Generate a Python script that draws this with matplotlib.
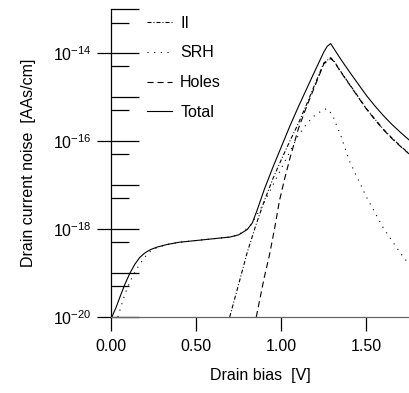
import numpy as np
import matplotlib
matplotlib.use('Agg')
import matplotlib.pyplot as plt
from matplotlib.ticker import FixedLocator, NullFormatter

plt.rcParams['font.family'] = ['Liberation Sans', 'DejaVu Sans']
plt.rcParams['mathtext.fontset'] = 'custom'
plt.rcParams['mathtext.rm'] = 'Liberation Sans'

# values, noise as log10 [AAs/cm]
v_total = [0.005, 0.03, 0.055, 0.08, 0.11, 0.14, 0.17, 0.2, 0.23, 0.27, 0.33, 0.4, 0.5, 0.6, 0.7,
           0.75, 0.8, 0.83, 0.86, 0.9, 0.95, 1.0, 1.05, 1.1, 1.15, 1.2, 1.25, 1.27, 1.29,
           1.31, 1.35, 1.4, 1.45, 1.5, 1.55, 1.6, 1.65, 1.7, 1.75]
log_total = [-20.0, -19.78, -19.52, -19.27, -19.01, -18.8, -18.64, -18.54, -18.47, -18.41, -18.35, -18.3, -18.26, -18.22, -18.18,
             -18.13, -18.01, -17.86, -17.55, -17.1, -16.6, -16.13, -15.66, -15.22, -14.8, -14.38, -13.97, -13.84, -13.78,
             -13.9, -14.14, -14.42, -14.69, -14.96, -15.2, -15.42, -15.62, -15.8, -15.97]

v_srh = [0.04, 0.06, 0.08, 0.1, 0.13, 0.16, 0.2, 0.23, 0.27, 0.33, 0.4, 0.5, 0.6, 0.7, 0.75, 0.785, 0.81,
         0.85, 0.9, 0.95, 1.0, 1.05, 1.1, 1.15, 1.2, 1.25, 1.27, 1.3, 1.35, 1.4, 1.5, 1.6, 1.7, 1.75]
log_srh = [-20.0, -19.75, -19.5, -19.3, -19.05, -18.85, -18.63, -18.51, -18.42, -18.35, -18.3, -18.26, -18.22, -18.18, -18.13, -18.02, -17.97,
           -17.72, -17.4, -17.0, -16.62, -16.24, -15.87, -15.6, -15.4, -15.28, -15.26, -15.4, -15.88, -16.45, -17.27, -17.98, -18.55, -18.8]

v_ii = [0.697, 0.75, 0.8, 0.85, 0.9, 0.95, 1.0, 1.05, 1.1, 1.15, 1.2, 1.25, 1.29,
        1.31, 1.35, 1.4, 1.45, 1.5, 1.55, 1.6, 1.65, 1.7, 1.75]
log_ii = [-20.0, -19.25, -18.53, -17.92, -17.36, -16.86, -16.42, -16.0, -15.6, -15.15, -14.68, -14.22, -14.1,
          -14.18, -14.42, -14.7, -14.98, -15.26, -15.5, -15.73, -15.93, -16.11, -16.28]

v_holes = [0.853, 0.9, 0.93, 0.96, 0.99, 1.02, 1.05, 1.1, 1.15, 1.2, 1.25, 1.29,
           1.31, 1.35, 1.4, 1.45, 1.5, 1.55, 1.6, 1.65, 1.7, 1.75]
log_holes = [-20.0, -19.1, -18.6, -18.0, -17.34, -16.85, -16.4, -15.72, -15.2, -14.72, -14.24, -14.12,
             -14.19, -14.43, -14.71, -14.99, -15.27, -15.51, -15.74, -15.94, -16.12, -16.29]

x_ticks = [0.0, 0.5, 1.0, 1.5]
x_labels = ['0.00', '0.50', '1.00', '1.50']
y_label_exp = [-20, -18, -16, -14]

fig = plt.figure(figsize=(4.09, 3.93), dpi=100)
ax = fig.add_axes([0.2714, 0.1934, 0.7286, 0.7829])

lw = 0.8
ax.plot(v_ii, 10.0 ** np.array(log_ii), color='black', lw=lw, ls=(0, (3.6, 1.8, 0.9, 1.8)), label='II')
ax.plot(v_srh, 10.0 ** np.array(log_srh), color='black', lw=lw, ls=(0, (1, 5)), label='SRH')
ax.plot(v_holes, 10.0 ** np.array(log_holes), color='black', lw=lw, ls=(0, (5.5, 3.5)), label='Holes')
ax.plot(v_total, 10.0 ** np.array(log_total), color='black', lw=lw, ls='-', label='Total')

ax.set_yscale('log')
ax.set_xlim(0, 1.75)
ax.set_ylim(1e-20, 1e-13)

for s in ['top', 'right']:
    ax.spines[s].set_visible(False)
ax.spines['left'].set_linewidth(0.9)
ax.spines['bottom'].set_linewidth(0.9)
ax.spines['bottom'].set_color('#666666')

ax.set_xticks(x_ticks)
ax.set_xticklabels(x_labels)
ax.tick_params(axis='x', direction='out', length=10, width=0.9, labelsize=11.5, pad=6)

# inner ticks: every decade long, 5x short
ax.yaxis.set_major_locator(FixedLocator([10.0 ** e for e in range(-20, -12)]))
ax.yaxis.set_minor_locator(FixedLocator([5 * 10.0 ** e for e in range(-20, -13)]))
ax.yaxis.set_major_formatter(NullFormatter())
ax.yaxis.set_minor_formatter(NullFormatter())
ax.tick_params(axis='y', which='major', direction='in', length=20, width=0.9)
ax.tick_params(axis='y', which='minor', direction='in', length=13, width=0.9)

# outer ticks with labels on every second decade
sec = ax.secondary_yaxis('left')
sec.set_yscale('log')
sec.spines['left'].set_visible(False)
sec.set_yticks([10.0 ** e for e in y_label_exp])
sec.set_yticklabels([r'$\mathregular{10^{%d}}$' % e for e in y_label_exp])
sec.yaxis.set_minor_locator(FixedLocator([]))
sec.tick_params(axis='y', which='major', direction='out', length=10, width=0.9, labelsize=11.5, pad=4)

ax.set_xlabel('Drain bias  [V]', fontsize=11.5, labelpad=10)
sec.set_ylabel('Drain current noise  [AAs/cm]', fontsize=11.5, labelpad=12)

ax.legend(loc='upper left', bbox_to_anchor=(0.095, 1.005), frameon=False, fontsize=11.5,
          handlelength=1.56, handletextpad=0.5, labelspacing=0.92, borderpad=0)

fig.savefig('out.png', dpi=100)
